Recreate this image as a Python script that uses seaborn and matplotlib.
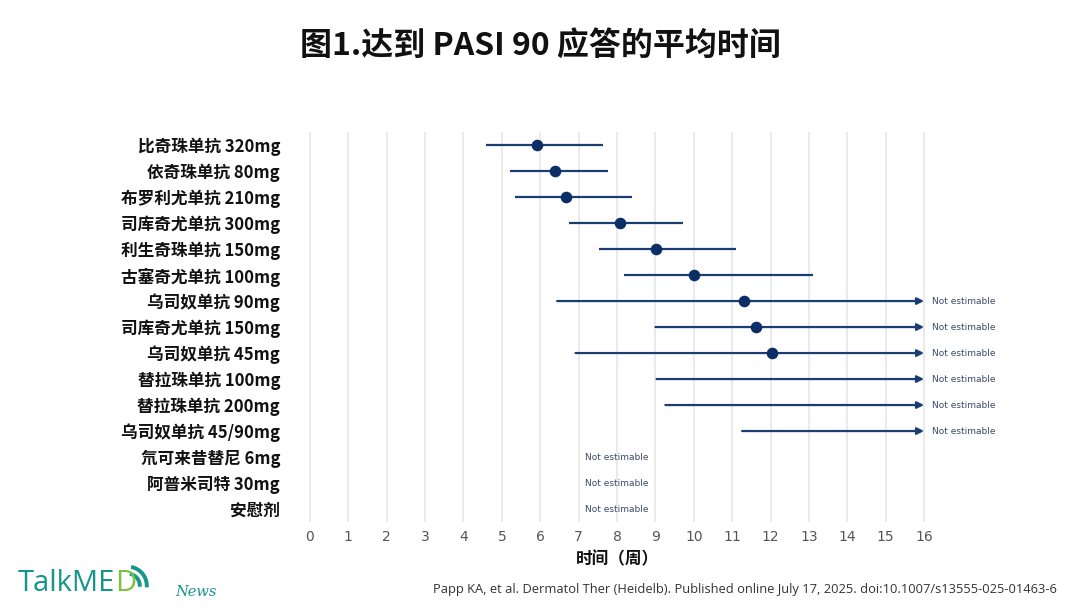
import matplotlib
matplotlib.use("Agg")
import matplotlib.pyplot as plt
import seaborn as sns
import numpy as np
import pandas as pd
from matplotlib.patches import Arc

# ---------------- data ----------------
drugs = ["比奇珠单抗 320mg", "依奇珠单抗 80mg", "布罗利尤单抗 210mg", "司库奇尤单抗 300mg",
         "利生奇珠单抗 150mg", "古塞奇尤单抗 100mg", "乌司奴单抗 90mg", "司库奇尤单抗 150mg",
         "乌司奴单抗 45mg", "替拉珠单抗 100mg", "替拉珠单抗 200mg", "乌司奴单抗 45/90mg",
         "氘可来昔替尼 6mg", "阿普米司特 30mg", "安慰剂"]
median_wk = [5.92, 6.38, 6.67, 8.08, 9.02, 10.0, 11.32, 11.62, 12.05,
             np.nan, np.nan, np.nan, np.nan, np.nan, np.nan]
ci_low = [4.58, 5.22, 5.34, 6.74, 7.54, 8.18, 6.44, 9.0, 6.92,
          9.03, 9.26, 11.26, np.nan, np.nan, np.nan]
ci_high = [7.63, 7.76, 8.40, 9.73, 11.10, 13.10, np.nan, np.nan, np.nan,
           np.nan, np.nan, np.nan, np.nan, np.nan, np.nan]
x_ticks = list(range(0, 17))
na_label = "Not estimable"

df = pd.DataFrame({"drug": drugs, "median": median_wk, "lo": ci_low, "hi": ci_high})
df["pos"] = np.arange(len(df))

# ---------------- style ----------------
sns.set_theme(style="white")
plt.rcParams['font.family'] = ['Noto Sans CJK SC', 'DejaVu Sans']
navy = "#0c2e66"
line_c = "#1c3d72"

fig = plt.figure(figsize=(10.8, 6.08), dpi=100)
ax = fig.add_axes([0.2799, 0.1414, 0.5828, 0.6414])

xmax = x_ticks[-1]
for _, r in df.iterrows():
    y = r["pos"]
    if np.isnan(r["lo"]):
        ax.text(8.0, y, na_label, ha="center", va="center", fontsize=6.5,
                color="#3a4a6a", family="DejaVu Sans")
        continue
    if np.isnan(r["hi"]):
        ax.annotate("", xy=(xmax, y), xytext=(r["lo"], y),
                    arrowprops=dict(arrowstyle="-|>", color=line_c, lw=1.6,
                                    mutation_scale=10, shrinkA=0, shrinkB=0))
        ax.text(xmax + 0.22, y, na_label, ha="left", va="center", fontsize=6.5,
                color="#3a4a6a", family="DejaVu Sans", clip_on=False)
    else:
        ax.hlines(y, r["lo"], r["hi"], color=line_c, lw=1.6)

sns.scatterplot(data=df.dropna(subset=["median"]), x="median", y="pos", ax=ax,
                color=navy, s=70, edgecolor=navy, linewidth=0, zorder=5, legend=False)

ax.set_xlim(-0.2, 16.2)
ax.set_ylim(len(df) - 0.5, -0.5)
ax.set_xticks(x_ticks)
ax.set_xticklabels([str(t) for t in x_ticks], fontsize=10, color="#555555",
                   family="DejaVu Sans")
ax.set_yticks(df["pos"])
ax.set_yticklabels(drugs, fontsize=12, fontweight="bold", color="#111111")
ax.tick_params(axis="both", length=0, pad=6)
ax.tick_params(axis="y", pad=16)
ax.grid(axis="x", color="#e6e6e6", lw=1.2)
ax.set_axisbelow(True)
for s in ax.spines.values():
    s.set_visible(False)
ax.set_xlabel("时间（周）", fontsize=12, fontweight="bold", color="#111111", labelpad=4)
ax.set_ylabel("")

# title
fig.text(0.5, 0.925, "图1.达到 PASI 90 应答的平均时间", ha="center", va="center",
         fontsize=23, fontweight="bold", color="#111111")

# citation
fig.text(0.979, 0.031, "Papp KA, et al. Dermatol Ther (Heidelb). Published online July 17, 2025. doi:10.1007/s13555-025-01463-6",
         ha="right", va="center", fontsize=9.3, color="#333333", family="Open Sans")

# logo
teal = "#15968a"
green = "#7cc242"
t1 = fig.text(0.016, 0.040, "TalkME", ha="left", va="center", fontsize=21, color=teal,
              family="Open Sans", fontweight="medium")
fig.canvas.draw()
bb = t1.get_window_extent()
x_d = bb.x1 / fig.bbox.width
t2 = fig.text(x_d, 0.040, "D", ha="left", va="center", fontsize=21, color=green,
              family="Open Sans", fontweight="medium")
fig.canvas.draw()
bb2 = t2.get_window_extent()
lax = fig.add_axes([0, 0, 1, 1], facecolor="none")
lax.set_xlim(0, 1080)
lax.set_ylim(608, 0)
lax.axis("off")
cx = bb2.x1 - 8
cy = 608 - (bb2.y0 + bb2.y1) / 2 + 2
for rr in (12, 19):
    lax.add_patch(Arc((cx, cy), rr * 2, rr * 2, theta1=-80, theta2=5,
                      color=teal, lw=2.8))
fig.text(0.162, 0.027, "News", ha="left", va="center", fontsize=10.5, color=teal,
         family="DejaVu Serif", style="italic")

fig.savefig("out.png", dpi=100)
